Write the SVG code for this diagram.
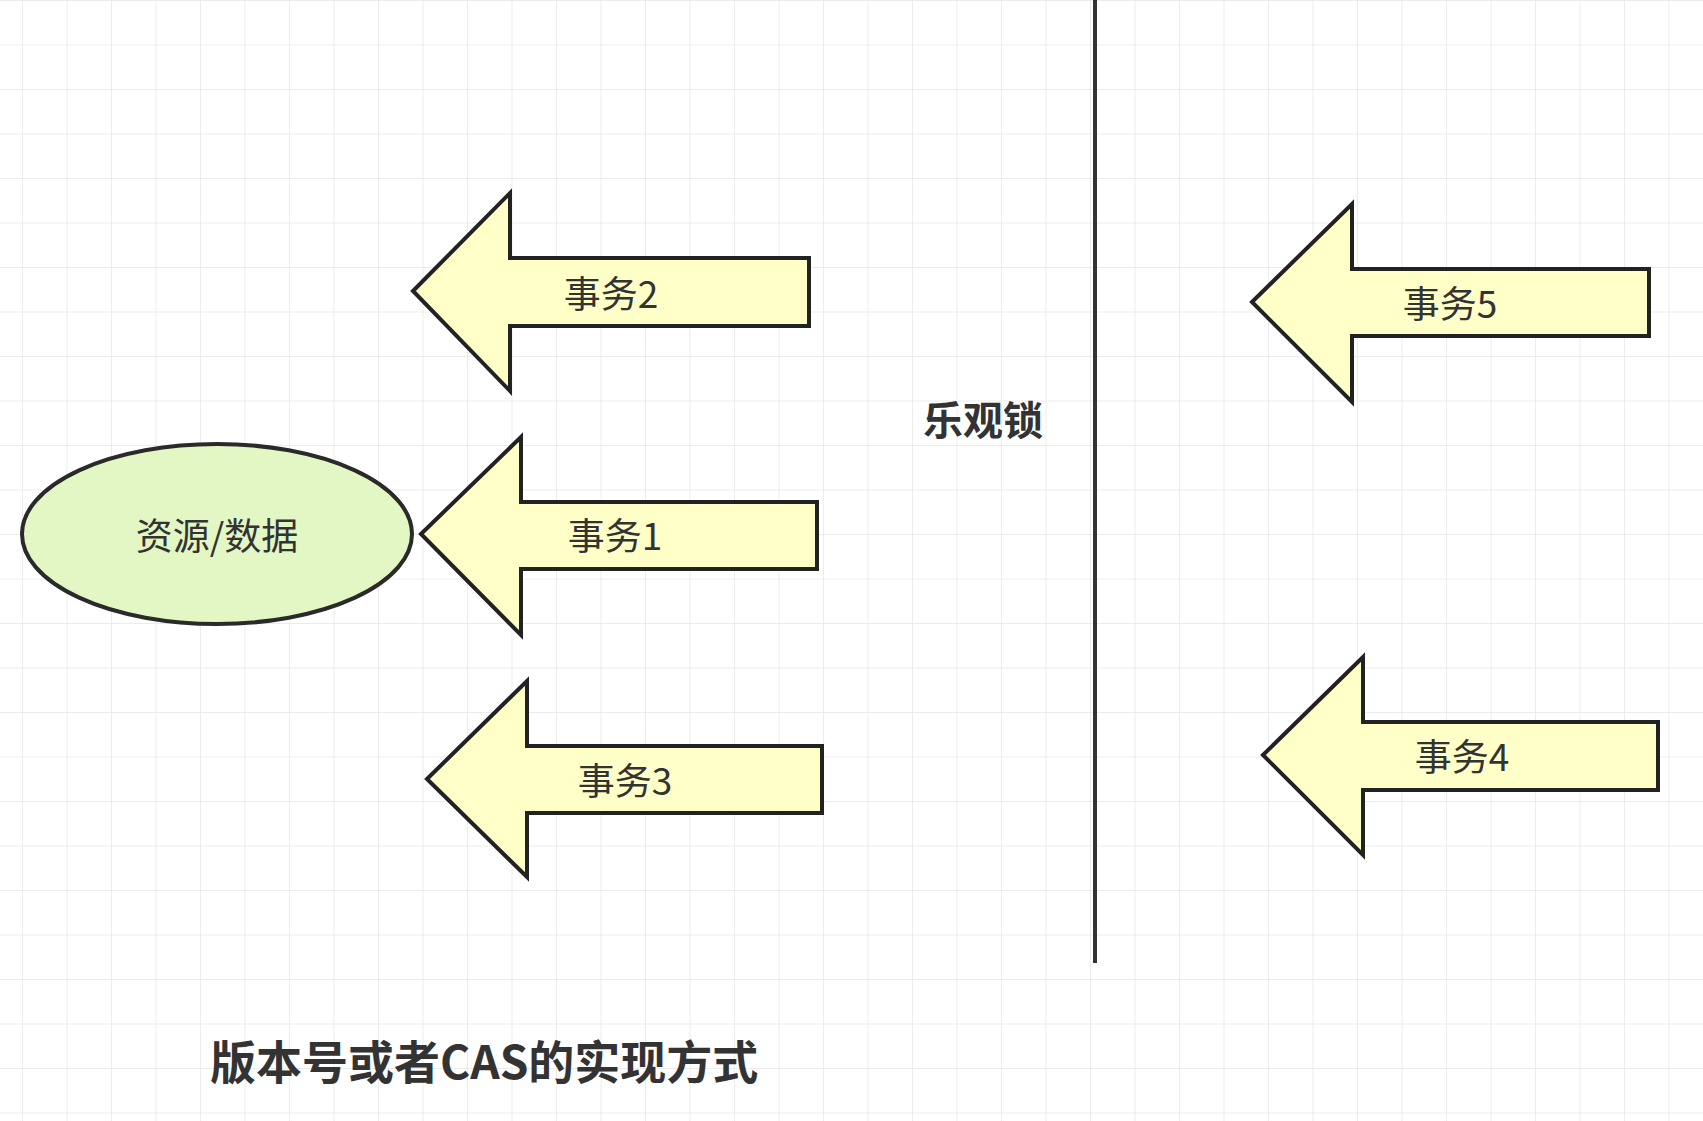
<svg xmlns="http://www.w3.org/2000/svg" width="1703" height="1121" viewBox="0 0 1703 1121">
<defs>
<pattern id="g" x="22" y="candidates" width="44.5" height="44.5" patternUnits="userSpaceOnUse">
<path d="M0 0H44.5M0 0V44.5" fill="none" stroke="#e6e6e6" stroke-width="1.5"/>
</pattern>
<style>
.arr{fill:#ffffc8;stroke:#222;stroke-width:4;stroke-linejoin:miter}
.lbl{font-family:"Noto Sans CJK SC","Liberation Sans",sans-serif;font-size:37px;fill:#333;text-anchor:middle;dominant-baseline:central}
.b{font-family:"Noto Sans CJK SC","Liberation Sans",sans-serif;font-weight:bold;fill:#333}
</style>
</defs>
<rect width="1703" height="1121" fill="#fff"/>
<rect width="1703" height="1121" fill="url(#g)"/>
<g id="connectors">
<line x1="1095" y1="0" x2="1095" y2="963" stroke="#333" stroke-width="4"/>
</g>
<g id="resource">
<ellipse cx="217" cy="534" rx="195" ry="90" fill="#e3f7c4" stroke="#2a2a2a" stroke-width="4"/>
<text class="lbl" x="217" y="534" fill="#4a5a3a">资源/数据</text>
</g>
<g id="tx2"><path class="arr" d="M413 291L510 193V258H809V326H510V391Z"/><text class="lbl" x="611" y="292">事务2</text></g>
<g id="tx1"><path class="arr" d="M421 534L521 437V502H817V569H521V635Z"/><text class="lbl" x="615" y="534">事务1</text></g>
<g id="tx3"><path class="arr" d="M427 779L527 681V746H822V813H527V877Z"/><text class="lbl" x="625" y="779">事务3</text></g>
<g id="tx5"><path class="arr" d="M1252 302L1352 204V269H1649V336H1352V402Z"/><text class="lbl" x="1450" y="302">事务5</text></g>
<g id="tx4"><path class="arr" d="M1263 755L1363 657V722H1658V790H1363V855Z"/><text class="lbl" x="1462" y="755">事务4</text></g>
<g id="title"><text class="b" x="983" y="418" font-size="40" text-anchor="middle" dominant-baseline="central">乐观锁</text></g>
<g id="caption"><text class="b" x="210" y="1059" font-size="46" dominant-baseline="central">版本号或者CAS的实现方式</text></g>
</svg>
